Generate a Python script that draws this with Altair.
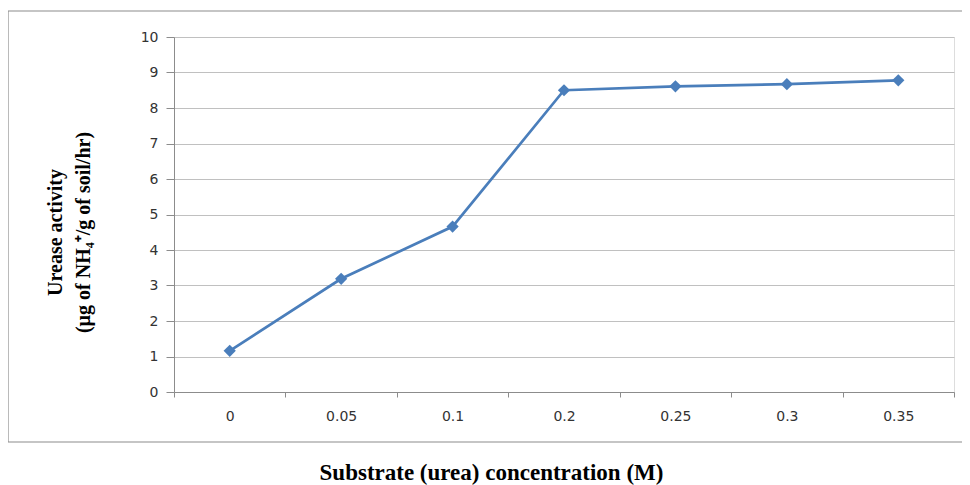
import altair as alt
import pandas as pd

concentration = ["0", "0.05", "0.1", "0.2", "0.25", "0.3", "0.35"]
activity = [1.16, 3.19, 4.66, 8.50, 8.61, 8.67, 8.78]
y_ticks = list(range(0, 11))

df = pd.DataFrame({"conc": concentration, "act": activity})

W, H = 780, 355

frame = alt.Chart(pd.DataFrame({"d": [0]})).mark_rect(
    fill=None, stroke="#8c8c8c", strokeWidth=1.2
).encode(
    x=alt.value(-166), x2=alt.value(789), y=alt.value(-26), y2=alt.value(405)
)

line = alt.Chart(df).mark_line(
    color="#4a7ebb", strokeWidth=2.7,
    point=alt.OverlayMarkDef(shape="diamond", size=150, color="#4a7ebb", filled=True, opacity=1),
).encode(
    x=alt.X("conc:N", sort=concentration,
            scale=alt.Scale(paddingInner=0, paddingOuter=0),
            axis=alt.Axis(title="Substrate (urea) concentration (M)", labelAngle=0,
                          tickBand="extent", tickSize=5, labelPadding=12,
                          domainColor="#8c8c8c", tickColor="#8c8c8c",
                          labelFont="DejaVu Sans", labelFontSize=14, labelColor="#333333",
                          titleFont="Liberation Serif", titleFontSize=23, titleFontWeight="bold",
                          titleColor="#000000", titleX=317, titleY=87,
                          titleBaseline="alphabetic", titleAlign="center", grid=False)),
    y=alt.Y("act:Q", scale=alt.Scale(domain=[0, 10], nice=False),
            axis=alt.Axis(values=y_ticks, tickSize=8, labelPadding=8,
                          domainColor="#8c8c8c", tickColor="#8c8c8c",
                          gridColor="#c0c0c0", grid=True,
                          labelFont="DejaVu Sans", labelFontSize=14, labelColor="#333333",
                          title=["Urease activity", "(µg of NH₄⁺/g of soil/hr)"],
                          titleFont="Liberation Serif", titleFontSize=20, titleFontWeight="bold",
                          titleColor="#000000", titleAngle=-90, titleX=-119, titleY=195,
                          titleBaseline="middle", titleAlign="center", titleLineHeight=28)),
)

chart = alt.layer(frame, line).properties(
    width=W, height=H,
    autosize=alt.AutoSizeParams(type="none"),
    padding={"left": 166, "top": 29, "right": 8, "bottom": 93},
).configure_view(stroke=None).configure(background="white")

chart.save("out.html", embed_options={"renderer": "svg", "actions": False})
